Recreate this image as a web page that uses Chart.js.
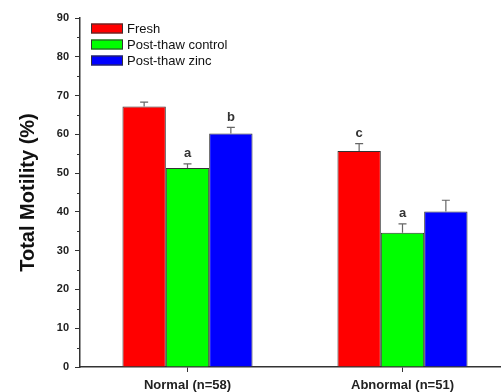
<!DOCTYPE html>
<html lang="en">
<head>
  <meta charset="UTF-8" />
  <title>Total Motility</title>
  <script src="https://cdn.jsdelivr.net/npm/chart.js"></script>
  <style>
    html, body {
      margin: 0;
      padding: 0;
      background: #ffffff;
      overflow: hidden;
    }
    .chart-box {
      position: absolute;
      left: 0;
      top: 0;
      width: 520px;
      height: 392px;
    }
  </style>
</head>
<body>
  <div class="chart-box">
    <canvas id="motilityChart" width="520" height="392"></canvas>
  </div>

  <script>
    // data
    const categories = ['Normal (n=58)', 'Abnormal (n=51)'];
    const seriesNames = ['Fresh', 'Post-thaw control', 'Post-thaw zinc'];
    const freshMeans = [67.2, 55.7];
    const freshErr = [1.1, 1.9];
    const controlMeans = [51.3, 34.6];
    const controlErr = [1.1, 2.3];
    const zincMeans = [60.2, 40.1];
    const zincErr = [1.6, 2.9];
    // significance letters above bars
    const freshLetters = ['', 'c'];
    const controlLetters = ['a', 'a'];
    const zincLetters = ['b', ''];
    const yTicks = [0, 10, 20, 30, 40, 50, 60, 70, 80, 90];
    const yMinorTicks = [5, 15, 25, 35, 45, 55, 65, 75, 85];

    const barColors = ['#ff0000', '#00ff00', '#0000ff'];
    const axisColor = '#333333';
    const fontFamily = '"Liberation Sans", Arial, sans-serif';

    const errors = [freshErr, controlErr, zincErr];
    const letters = [freshLetters, controlLetters, zincLetters];

    // error bars (upper whisker only) + letters
    const errorBarPlugin = {
      id: 'errorBars',
      afterDatasetsDraw(chart) {
        const ctx = chart.ctx;
        const yScale = chart.scales.y;
        ctx.save();
        chart.data.datasets.forEach((ds, di) => {
          const meta = chart.getDatasetMeta(di);
          meta.data.forEach((bar, i) => {
            const x = bar.x;
            const yTop = yScale.getPixelForValue(ds.data[i] + errors[di][i]);
            const yBar = yScale.getPixelForValue(ds.data[i]);
            ctx.strokeStyle = '#666666';
            ctx.lineWidth = 1.2;
            ctx.beginPath();
            ctx.moveTo(x, yBar);
            ctx.lineTo(x, yTop);
            ctx.moveTo(x - 4, yTop);
            ctx.lineTo(x + 4, yTop);
            ctx.stroke();
            const letter = letters[di][i];
            if (letter) {
              ctx.fillStyle = '#333333';
              ctx.font = 'bold 13px ' + fontFamily;
              ctx.textAlign = 'center';
              ctx.textBaseline = 'middle';
              ctx.fillText(letter, x, yTop - 10);
            }
          });
        });
        ctx.restore();
      }
    };

    // minor ticks on the y axis
    const minorTickPlugin = {
      id: 'minorTicks',
      afterDraw(chart) {
        const ctx = chart.ctx;
        const yScale = chart.scales.y;
        const x0 = chart.chartArea.left;
        ctx.save();
        ctx.strokeStyle = axisColor;
        ctx.lineWidth = 1;
        yMinorTicks.forEach(v => {
          const y = Math.round(yScale.getPixelForValue(v)) + 0.5;
          ctx.beginPath();
          ctx.moveTo(x0 - 3, y);
          ctx.lineTo(x0, y);
          ctx.stroke();
        });
        ctx.restore();
      }
    };

    // legend drawn inside the plot, top left
    const insideLegendPlugin = {
      id: 'insideLegend',
      afterDraw(chart) {
        const ctx = chart.ctx;
        const left = chart.chartArea.left + 11;
        const top = chart.chartArea.top + 5.5;
        ctx.save();
        chart.data.datasets.forEach((ds, i) => {
          const y = top + i * 16;
          ctx.fillStyle = ds.backgroundColor;
          ctx.fillRect(left, y, 32, 10);
          ctx.strokeStyle = axisColor;
          ctx.lineWidth = 1;
          ctx.strokeRect(left + 0.5, y + 0.5, 31, 9);
          ctx.fillStyle = '#111111';
          ctx.font = '500 13px ' + fontFamily;
          ctx.textAlign = 'left';
          ctx.textBaseline = 'middle';
          ctx.fillText(ds.label, left + 36, y + 5.5);
        });
        ctx.restore();
      }
    };

    const ctx = document.getElementById('motilityChart').getContext('2d');
    new Chart(ctx, {
      type: 'bar',
      data: {
        labels: categories,
        datasets: [
          { label: seriesNames[0], data: freshMeans, backgroundColor: barColors[0] },
          { label: seriesNames[1], data: controlMeans, backgroundColor: barColors[1] },
          { label: seriesNames[2], data: zincMeans, backgroundColor: barColors[2] },
        ],
      },
      options: {
        responsive: false,
        animation: false,
        devicePixelRatio: 1,
        layout: { padding: { top: 18, right: 10, bottom: 0, left: 0 } },
        datasets: {
          bar: {
            borderColor: axisColor,
            borderWidth: 1,
            barPercentage: 1,
            categoryPercentage: 0.605,
          },
        },
        plugins: {
          legend: { display: false },
          tooltip: { enabled: false },
        },
        scales: {
          x: {
            offset: true,
            afterFit(scale) {
              scale.height = 25;
            },
            grid: {
              offset: false,
              drawOnChartArea: false,
              drawTicks: true,
              tickLength: 5,
              color: axisColor,
            },
            border: { display: true, color: axisColor, width: 1.5 },
            ticks: {
              color: '#222222',
              font: { family: fontFamily, size: 13, weight: 'bold' },
              padding: 6,
            },
          },
          y: {
            min: 0,
            max: 90,
            afterBuildTicks(scale) {
              scale.ticks = yTicks.map(v => ({ value: v }));
            },
            afterFit(scale) {
              scale.width = 80;
            },
            grid: {
              drawOnChartArea: false,
              drawTicks: true,
              tickLength: 5,
              color: axisColor,
            },
            border: { display: true, color: axisColor, width: 1.5 },
            ticks: {
              color: '#222222',
              font: { family: fontFamily, size: 11, weight: 'bold' },
              padding: 6,
            },
            title: {
              display: true,
              text: 'Total Motility (%)',
              color: '#111111',
              font: { family: fontFamily, size: 20, weight: 'bold' },
              padding: { top: 16, bottom: 0 },
            },
          },
        },
      },
      plugins: [errorBarPlugin, minorTickPlugin, insideLegendPlugin],
    });
  </script>
</body>
</html>
